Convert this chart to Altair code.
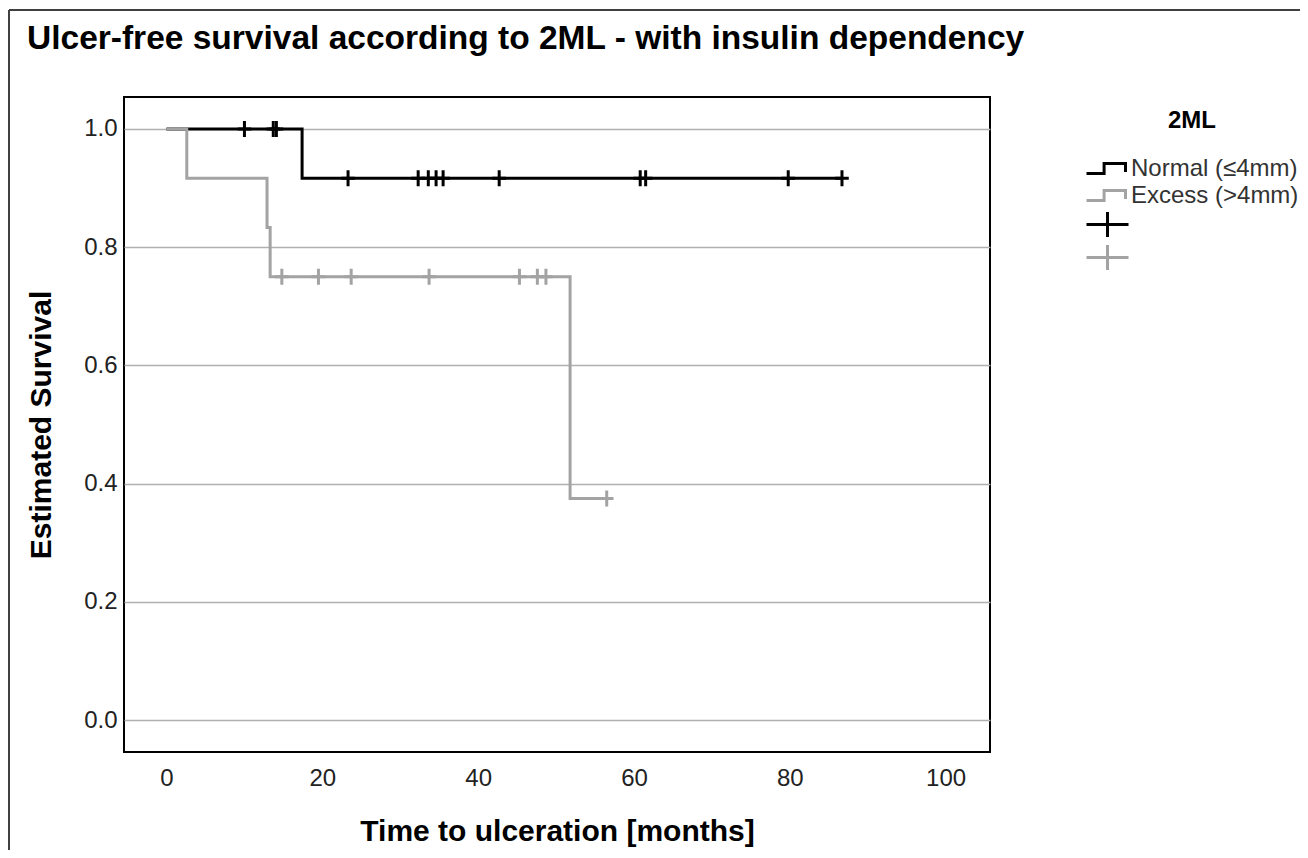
import altair as alt
import pandas as pd

# ---- data ----
groups = ["Normal (≤4mm)", "Excess (>4mm)"]
censor_groups = ["Normal (≤4mm) censored", "Excess (>4mm) censored"]
colors = ["#000000", "#a3a3a3"]

normal_t = [0, 17.4, 86.7]
normal_s = [1.0, 0.9167, 0.9167]
excess_t = [0, 2.6, 12.9, 13.3, 51.8, 56.5]
excess_s = [1.0, 0.9167, 0.8333, 0.75, 0.375, 0.375]

normal_cens_t = [10.0, 13.7, 14.1, 23.3, 32.3, 33.6, 34.6, 35.5, 42.7, 60.8, 61.5, 79.8, 86.7]
normal_cens_s = [1.0, 1.0, 1.0, 0.9167, 0.9167, 0.9167, 0.9167, 0.9167, 0.9167, 0.9167, 0.9167, 0.9167, 0.9167]
excess_cens_t = [14.8, 19.5, 23.7, 33.7, 45.3, 47.6, 48.7, 56.5]
excess_cens_s = [0.75, 0.75, 0.75, 0.75, 0.75, 0.75, 0.75, 0.375]

x_ticks = [0, 20, 40, 60, 80, 100]
y_ticks = [0.0, 0.2, 0.4, 0.6, 0.8, 1.0]

FONT = "Liberation Sans"

normal_df = pd.DataFrame({"t": normal_t, "s": normal_s, "group": groups[0]})
excess_df = pd.DataFrame({"t": excess_t, "s": excess_s, "group": groups[1]})
ncens_df = pd.DataFrame({"t": normal_cens_t, "s": normal_cens_s, "cg": censor_groups[0]})
ecens_df = pd.DataFrame({"t": excess_cens_t, "s": excess_cens_s, "cg": censor_groups[1]})

xscale = alt.Scale(domain=[-5.46, 105.7], nice=False, zero=False)
yscale = alt.Scale(domain=[-0.054, 1.054], nice=False, zero=False)

xenc = alt.X("t:Q", scale=xscale, axis=alt.Axis(
    values=x_ticks, title="Time to ulceration [months]", grid=False,
    ticks=False, tickSize=0, labelPadding=14, domain=False,
    titleY=88, titleBaseline="alphabetic"))
yenc = alt.Y("s:Q", scale=yscale, axis=alt.Axis(
    values=y_ticks, format=".1f", title="Estimated Survival", grid=True,
    ticks=False, tickSize=0, labelPadding=7, domain=False,
    titleX=-74, titleBaseline="alphabetic"))

line_legend = alt.Legend(
    title="2ML", orient="none", legendX=961, legendY=12,
    symbolType="M-1,0.25H-0.12V-0.25H0.95V0.18", symbolSize=1600,
    symbolStrokeWidth=3, symbolFillColor="transparent",
    titleAnchor="middle", titleFontSize=24, titleFontWeight="bold",
    titleFont=FONT, titleColor="#000", labelFont=FONT, labelFontSize=24,
    labelColor="#333", labelOffset=3, clipHeight=25, titlePadding=23,
    labelLimit=400)

cross_legend = alt.Legend(
    title=None, orient="none", legendX=961, legendY=112,
    symbolType="M-1,0H1M0,-0.6V0.6", symbolSize=1764,
    symbolStrokeWidth=3, labelExpr="''", clipHeight=31)

color_scale = alt.Scale(domain=groups, range=colors)
stroke_scale = alt.Scale(domain=censor_groups, range=colors)

line_n = alt.Chart(normal_df).mark_line(interpolate="step-after", strokeWidth=3).encode(
    x=xenc, y=yenc, color=alt.Color("group:N", scale=color_scale, legend=line_legend))
line_e = alt.Chart(excess_df).mark_line(interpolate="step-after", strokeWidth=3).encode(
    x=xenc, y=yenc, color=alt.Color("group:N", scale=color_scale, legend=line_legend))

cross_shape = "M-0.85,0H0.85M0,-1V1"
cens_n = alt.Chart(ncens_df).mark_point(shape=cross_shape, size=256, strokeWidth=3,
                                         filled=False, opacity=1).encode(
    x=xenc, y=yenc, stroke=alt.Stroke("cg:N", scale=stroke_scale, legend=cross_legend))
cens_e = alt.Chart(ecens_df).mark_point(shape=cross_shape, size=256, strokeWidth=3,
                                         filled=False, opacity=1).encode(
    x=xenc, y=yenc, stroke=alt.Stroke("cg:N", scale=stroke_scale, legend=cross_legend))

# outer frame of the figure (decoration)
frame_df = pd.DataFrame({"k": [0]})
frame_left = alt.Chart(frame_df).mark_rule(color="#404040", strokeWidth=2).encode(
    x=alt.value(-115), y=alt.value(-87), y2=alt.value(780))
frame_top = alt.Chart(frame_df).mark_rule(color="#404040", strokeWidth=2).encode(
    x=alt.value(-115), x2=alt.value(1200), y=alt.value(-87))

chart = alt.layer(line_n, line_e, cens_n, cens_e, frame_left, frame_top).properties(
    width=866, height=655,
    title=alt.Title("Ulcer-free survival according to 2ML - with insulin dependency",
                    anchor="start", dx=19, offset=-73, fontSize=33.5, fontWeight="bold",
                    font=FONT, color="#000", baseline="alphabetic"),
    autosize=alt.AutoSizeParams(type="none"),
    padding={"left": 116, "top": 89, "right": 310, "bottom": 98},
    background="white",
).resolve_scale(color="shared", stroke="shared").configure_view(
    stroke="#000", strokeWidth=2
).configure_axis(
    labelFont=FONT, labelFontSize=24, labelColor="#222",
    titleFont=FONT, titleFontSize=30, titleFontWeight="bold", titleColor="#000",
    gridColor="#b0b0b0", gridWidth=1.5
)

chart.save("out.html", embed_options={"renderer": "svg", "actions": False})
